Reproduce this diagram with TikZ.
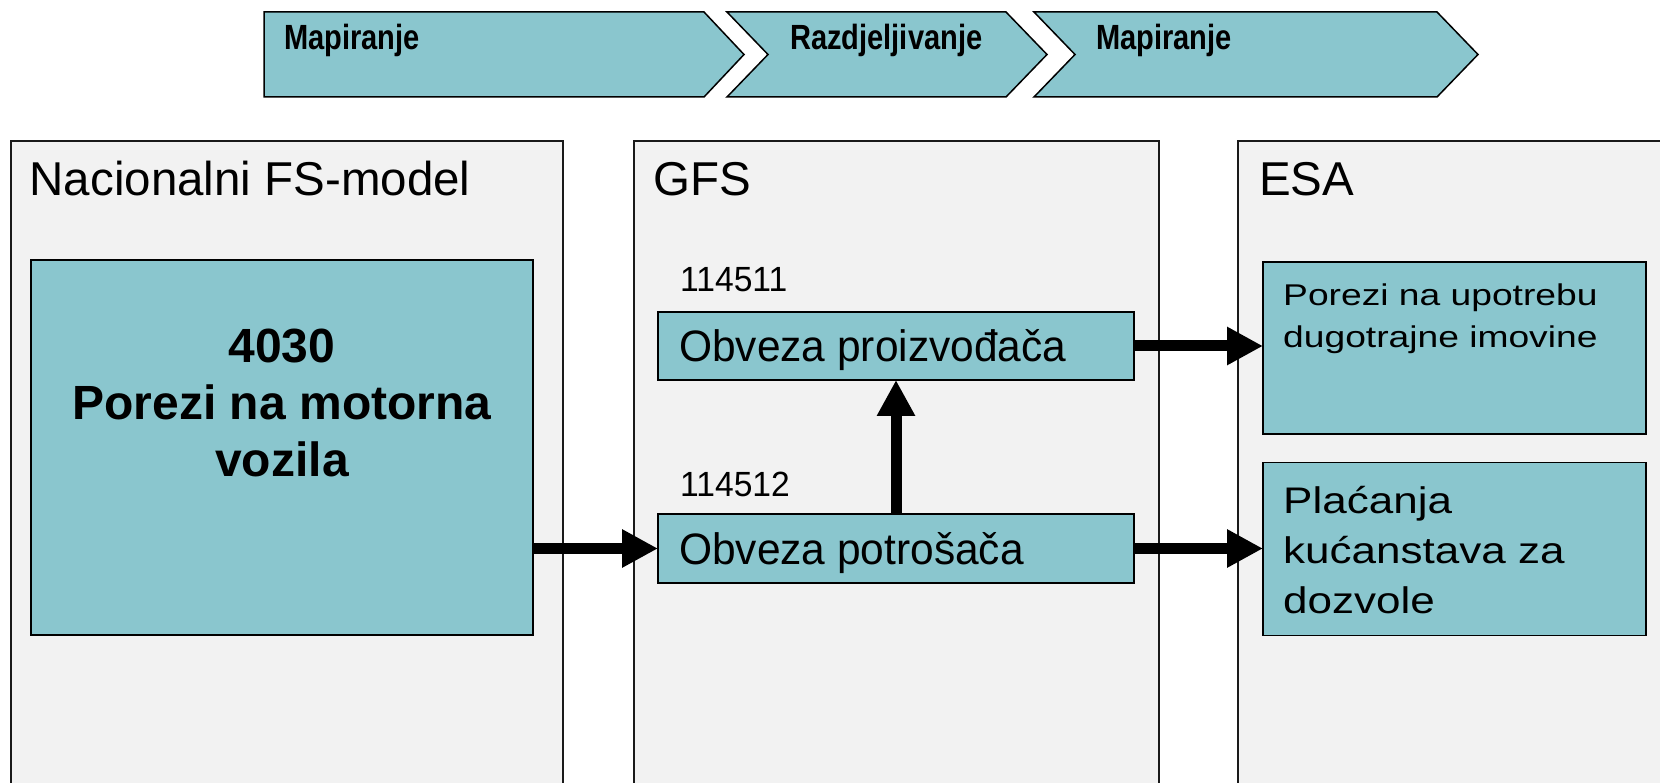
\documentclass[tikz,border=0pt]{standalone}
\usepackage{fontspec}
\setmainfont{Liberation Sans}
\usetikzlibrary{arrows.meta}
\definecolor{boxteal}{HTML}{8AC6CE}
\definecolor{panelgray}{HTML}{F2F2F2}
\definecolor{panelline}{HTML}{1A1A1A}
\begin{document}
\begin{tikzpicture}[x=1pt,y=-1pt,
  panel/.style={draw=panelline, line width=1.6pt, fill=panelgray, anchor=north west, inner sep=0pt, outer sep=0pt},
  tbox/.style={draw=black, line width=1.5pt, fill=boxteal, inner sep=0pt, outer sep=0pt},
  chev/.style={draw=black, line width=1.5pt, fill=boxteal},
  chevtxt/.style={font=\fontsize{35}{42}\selectfont\bfseries, inner sep=0pt, anchor=base west},
  titletxt/.style={font=\fontsize{47.5}{56}\selectfont, inner sep=0pt, anchor=base west},
  codetxt/.style={font=\fontsize{35}{42}\selectfont, inner sep=0pt, anchor=base west},
  obvtxt/.style={font=\fontsize{44}{52}\selectfont, inner sep=0pt, anchor=base west},
  bigarrow/.style={line width=11pt, -{Triangle[length=36pt,width=36pt]}}
]
\useasboundingbox (0,0) rectangle (1660,783);
\fill[white] (0,0) rectangle (1660,783);

% top chevrons
\draw[chev] (264,12) -- (704,12) -- (744,54.5) -- (704,97) -- (264,97) -- cycle;
\draw[chev] (727,12) -- (1006,12) -- (1047,54.5) -- (1006,97) -- (727,97) -- (768,54.5) -- cycle;
\draw[chev] (1034,12) -- (1437,12) -- (1478,54.5) -- (1437,97) -- (1034,97) -- (1075,54.5) -- cycle;
\node[chevtxt] (c1) at (284,50) {\scalebox{0.83}[1]{Mapiranje}};
\node[chevtxt] (c2) at (790,50) {\scalebox{0.83}[1]{Razdjeljivanje}};
\node[chevtxt] (c3) at (1096,50) {\scalebox{0.83}[1]{Mapiranje}};

% panels
\node[panel, minimum width=552pt, minimum height=700pt] (p1) at (11,141) {};
\node[panel, minimum width=525pt, minimum height=700pt] (p2) at (634,141) {};
\node[panel, minimum width=500pt, minimum height=700pt] (p3) at (1238,141) {};

\node[titletxt] (t1) at (29.5,196) {Nacionalni FS-model};
\node[titletxt] (t2) at (653,196) {GFS};
\node[titletxt] (t3) at (1259,196) {ESA};

% boxes
\node[tbox, minimum width=502pt, minimum height=375pt] (b4030) at (282,447.5) {};
\node[font=\fontsize{48}{57}\selectfont\bfseries, align=center, inner sep=0pt, anchor=base] (t4030) at (282,476.7)
  {4030\\Porezi na motorna\\vozila};

\node[tbox, minimum width=476pt, minimum height=68pt] (proiz) at (896,346) {};
\node[tbox, minimum width=476pt, minimum height=69pt] (potr) at (896,548.5) {};
\node[codetxt] (k1) at (680,291.7) {\scalebox{0.96}[1]{114511}};
\node[codetxt] (k2) at (680,496) {\scalebox{0.96}[1]{114512}};
\node[obvtxt] (o1) at (679,361.7) {\scalebox{0.965}[1]{Obveza proizvođača}};
\node[obvtxt] (o2) at (679,564.5) {\scalebox{0.965}[1]{Obveza potrošača}};

\node[tbox, minimum width=383pt, minimum height=172pt] (esa1) at (1454.5,348) {};
\node[tbox, minimum width=383pt, minimum height=173pt] (esa2) at (1454.5,549) {};
\node[font=\fontsize{30}{41.6}\selectfont, align=left, inner sep=0pt, anchor=base west] (e1) at (1283,347.3)
  {\scalebox{1.24}[1]{Porezi na upotrebu}\\\scalebox{1.24}[1]{dugotrajne imovine}};
\node[font=\fontsize{37}{50}\selectfont, align=left, inner sep=0pt, anchor=base west] (e2) at (1283,613.3)
  {\scalebox{1.19}[1]{Plaćanja}\\\scalebox{1.19}[1]{kućanstava za}\\\scalebox{1.19}[1]{dozvole}};

% arrows
\draw[bigarrow] (b4030.east |- potr.west) -- (potr.west);
\draw[bigarrow] (potr.north) -- (proiz.south);
\draw[bigarrow] (proiz.east) -- (esa1.west |- proiz.east);
\draw[bigarrow] (potr.east) -- (esa2.west |- potr.east);
\end{tikzpicture}
\end{document}
